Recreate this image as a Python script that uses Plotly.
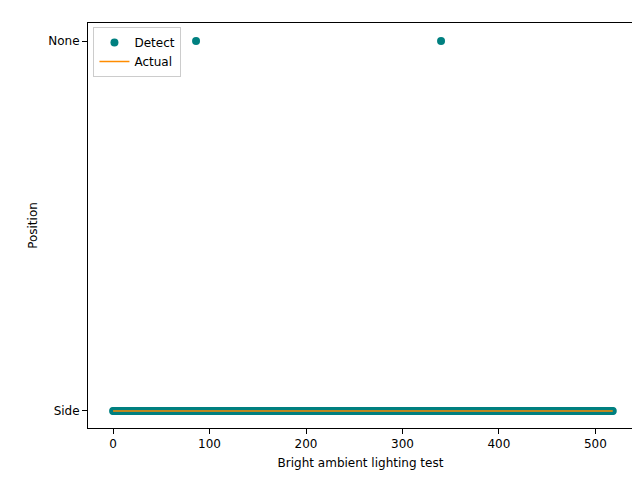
import plotly.graph_objects as go

# frame indices of the test and the detected / actual positions
frames = list(range(0, 519))
none_frames = [86, 340]
detect = ["None" if f in none_frames else "Side" for f in frames]
actual = ["Side"] * len(frames)

pos_codes = {"Side": 0, "None": 1}
tick_labels = ["Side", "None"]

fig = go.Figure()
fig.add_trace(go.Scatter(
    x=frames, y=[pos_codes[v] for v in detect], mode="markers", name="Detect",
    marker=dict(color="teal", size=8)
))
fig.add_trace(go.Scatter(
    x=frames, y=[pos_codes[v] for v in actual], mode="lines", name="Actual",
    line=dict(color="darkorange", width=1.5)
))

axis_style = dict(showgrid=False, zeroline=False, showline=True, mirror=True,
                  linecolor="black", ticks="outside", tickcolor="black",
                  automargin=False, tickfont=dict(size=12, color="black"))
fig.update_xaxes(range=[-26, 539], tickvals=[0, 100, 200, 300, 400, 500],
                 title=dict(text="Bright ambient lighting test", standoff=8,
                            font=dict(size=12, color="black")),
                 **axis_style)
fig.update_yaxes(range=[-0.046, 1.049], tickvals=[0, 1], ticktext=tick_labels,
                 title=dict(text="Position", standoff=8,
                            font=dict(size=12, color="black")),
                 **axis_style)

fig.update_layout(
    width=640, height=480,
    template="none",
    font=dict(family="DejaVu Sans", size=12, color="black"),
    plot_bgcolor="white", paper_bgcolor="white",
    margin=dict(l=80, r=15, t=15, b=60, pad=0),
    legend=dict(x=0.01, y=0.99, xanchor="left", yanchor="top",
                bordercolor="#cccccc", borderwidth=1, bgcolor="rgba(255,255,255,0.8)"),
)

fig.write_html("out.html")
